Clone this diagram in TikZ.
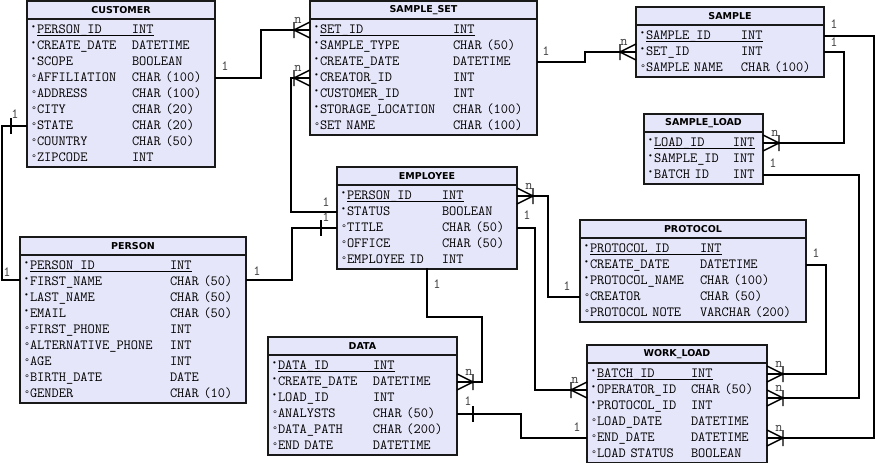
\documentclass[tikz,border=0pt]{standalone}
\usepackage{fontspec}
\usepackage{tikz}
\usetikzlibrary{positioning,backgrounds}
\newfontfamily\markfont{Liberation Mono}
\newfontfamily\headfont{DejaVu Sans}
\definecolor{tblfill}{RGB}{230,230,250}
\definecolor{tblline}{RGB}{25,25,25}
\definecolor{cardgray}{RGB}{60,60,60}
\newcommand\rowtext{\ttfamily\fontsize{14}{16}\selectfont}
\newcommand\headtext{\headfont\bfseries\fontsize{9.5}{11}\selectfont}
\newcommand\cardtext{\ttfamily\fontsize{14}{14}\selectfont}
% column marks: mandatory, optional, key
\newlength\erdcol
\newcommand\mandmark{\makebox[6pt][l]{\raisebox{3.5pt}{\markfont\fontsize{8}{8}\selectfont •}}}
\newcommand\optmark{\makebox[6pt][l]{\markfont\fontsize{10}{10}\selectfont °}}
\newcommand\pkline[1]{\setbox0\hbox{#1}\rlap{\rule[-2.5pt]{\wd0}{0.9pt}}\box0}
\newcommand\erdm[2]{\makebox[\erdcol][l]{\mandmark#1}#2}
\newcommand\erdo[2]{\makebox[\erdcol][l]{\optmark#1}#2}
\newcommand\erdu[2]{\mandmark\pkline{\makebox[\dimexpr\erdcol-6pt\relax][l]{#1}#2}}
\tikzstyle{tblhead} = [anchor=north west, draw=tblline, fill=tblfill, line width=1.6pt,
    minimum height=18pt, inner sep=0pt, outer sep=0pt, font=\headtext]
\tikzstyle{tblrow} = [anchor=north west, minimum height=16pt, inner xsep=4pt, inner ysep=0pt,
    outer sep=0pt, text height=9pt, text depth=3pt, align=left, font=\rowtext]
\tikzstyle{tblbox} = [draw=tblline, fill=tblfill, line width=1.6pt]
\tikzstyle{link} = [draw=black, line width=1.6pt]
\tikzstyle{card} = [font=\cardtext, text=cardgray, inner sep=0pt]
\tikzset{
  crow/.pic={\draw[link, line width=1.4pt] (0,-8) -- (16,0) -- (0,8) (16,-8) -- (16,8);
    \node[card] at (12,-10) {n};},
  onebar/.pic={\draw[link] (16,-8) -- (16,8);}
}
% id, x, y, width, type column, title, rows
\newcommand\erdtable[7]{%
  \node[tblhead, minimum width=#4pt] (#1) at (#2,#3) {#6};
  \setlength\erdcol{#5pt}%
  \pgfmathsetmacro\erdtw{#4-8}%
  \foreach \fkind/\fname/\ftype [count=\rowno] in {#7}{%
    \node[tblrow, text width=\erdtw pt] (#1-\rowno)
      at ([yshift={-3pt-16pt*(\rowno-1)}]#1.south west)
      {\csname erd\fkind\endcsname{\fname}{\ftype}};
    \xdef\erdlast{\rowno}%
  }%
  \begin{pgfonlayer}{background}
    \draw[tblbox] (#1.south west) rectangle ([yshift=-1pt]#1-\erdlast.south east);
  \end{pgfonlayer}%
}

\begin{document}
\begin{tikzpicture}[x=1pt, y=-1pt]
    \useasboundingbox (0,0) rectangle (876,463);
    \erdtable{cust}{27}{1}{188}{101}{CUSTOMER}{u/PERSON\_ID/INT, m/CREATE\_DATE/DATETIME,
        m/SCOPE/BOOLEAN, o/AFFILIATION/CHAR (100), o/ADDRESS/CHAR (100), o/CITY/CHAR (20),
        o/STATE/CHAR (20), o/COUNTRY/CHAR (50), o/ZIPCODE/INT}
    \erdtable{set}{310}{1}{227}{139}{SAMPLE\_SET}{u/SET\_ID/INT, m/SAMPLE\_TYPE/CHAR (50),
        m/CREATE\_DATE/DATETIME, m/CREATOR\_ID/INT, m/CUSTOMER\_ID/INT,
        m/STORAGE\_LOCATION/CHAR (100), o/SET NAME/CHAR (100)}
    \erdtable{sample}{636}{7}{188}{101}{SAMPLE}{u/SAMPLE\_ID/INT, m/SET\_ID/INT,
        o/SAMPLE NAME/CHAR (100)}
    \erdtable{sl}{644}{114}{119}{85}{SAMPLE\_LOAD}{u/LOAD\_ID/INT, m/SAMPLE\_ID/INT,
        m/BATCH ID/INT}
    \erdtable{emp}{337}{167}{180}{101}{EMPLOYEE}{u/PERSON\_ID/INT, m/STATUS/BOOLEAN,
        o/TITLE/CHAR (50), o/OFFICE/CHAR (50), o/EMPLOYEE ID/INT}
    \erdtable{person}{20}{237}{226}{146}{PERSON}{u/PERSON\_ID/INT, m/FIRST\_NAME/CHAR (50),
        m/LAST\_NAME/CHAR (50), m/EMAIL/CHAR (50), o/FIRST\_PHONE/INT,
        o/ALTERNATIVE\_PHONE/INT, o/AGE/INT, o/BIRTH\_DATE/DATE, o/GENDER/CHAR (10)}
    \erdtable{proto}{580}{220}{226}{116}{PROTOCOL}{u/PROTOCOL\_ID/INT, m/CREATE\_DATE/DATETIME,
        m/PROTOCOL\_NAME/CHAR (100), o/CREATOR/CHAR (50), o/PROTOCOL NOTE/VARCHAR (200)}
    \erdtable{data}{268}{337}{189}{101}{DATA}{u/DATA\_ID/INT, m/CREATE\_DATE/DATETIME,
        m/LOAD\_ID/INT, o/ANALYSTS/CHAR (50), o/DATA\_PATH/CHAR (200), o/END DATE/DATETIME}
    \erdtable{wl}{587}{345}{180}{100}{WORK\_LOAD}{u/BATCH\_ID/INT, m/OPERATOR\_ID/CHAR (50),
        m/PROTOCOL\_ID/INT, o/LOAD\_DATE/DATETIME, o/END\_DATE/DATETIME, o/LOAD STATUS/BOOLEAN}
    % relations
    \draw[link] (cust-4.east) node[card, shift={(10,-12)}] {1} -| ([xshift=-49pt]set-1.west) -- (set-1.west);
    \pic[xscale=-1] at (set-1.west) {crow};
    \draw[link] (emp-2.west) node[card, shift={(-11,-10)}] {1} -| ([xshift=-19pt]set-4.west) -- (set-4.west);
    \pic[xscale=-1] at (set-4.west) {crow};
    \draw[link] (cust-7.west) node[card, shift={(-12,-12)}] {1} -| ([xshift=-18pt,yshift=2pt]person-2.west)
        -- ([yshift=2pt]person-2.west) node[card, shift={(-13,-8)}] {1};
    \pic[xscale=-1] at (cust-7.west) {onebar};
    \draw[link] ([yshift=2pt]person-2.east) node[card, shift={(11,-9)}] {1} -| ([xshift=-45pt]emp-3.west)
        -- (emp-3.west) node[card, shift={(-11,-11)}] {1};
    \pic[xscale=-1] at (emp-3.west) {onebar};
    \draw[link] (emp-1.east) -| ([xshift=-32pt]proto-4.west) -- (proto-4.west) node[card, shift={(-13,-11)}] {1};
    \pic at (emp-1.east) {crow};
    \draw[link] (emp-3.east) node[card, shift={(10,-13)}] {1} -| ([xshift=-52pt]wl-2.west) -- (wl-2.west);
    \pic[xscale=-1] at (wl-2.west) {crow};
    \draw[link] (emp-5.south) node[card, shift={(10,16)}] {1} -- ++(0,49) -| ([xshift=25pt]data-2.east) -- (data-2.east);
    \pic at (data-2.east) {crow};
    \draw[link] (data-4.east) node[card, shift={(11,-13)}] {1} -| ([xshift=-66pt]wl-5.west)
        -- (wl-5.west) node[card, shift={(-10,-11)}] {1};
    \pic at (data-4.east) {onebar};
    \draw[link] (proto-2.east) node[card, shift={(10,-12)}] {1} -| ([xshift=59pt]wl-1.east) -- (wl-1.east);
    \pic at (wl-1.east) {crow};
    \draw[link] (sample-2.east) node[card, shift={(10,-10)}] {1} -| ([xshift=81pt]sl-1.east) -- (sl-1.east);
    \pic at (sl-1.east) {crow};
    \draw[link] (sample-1.east) node[card, shift={(10,-12)}] {1} -| ([xshift=107pt]wl-5.east) -- (wl-5.east);
    \pic at (wl-5.east) {crow};
    \draw[link] (sl-3.east) node[card, shift={(10,-12)}] {1} -| ([xshift=92pt]wl-2.south east) -- (wl-2.south east);
    \pic at (wl-2.south east) {crow};
    \draw[link] (set-3.east) node[card, shift={(9,-11)}] {1} -| ([xshift=-51pt]sample-2.west) -- (sample-2.west);
    \pic[xscale=-1] at (sample-2.west) {crow};
\end{tikzpicture}
\end{document}
